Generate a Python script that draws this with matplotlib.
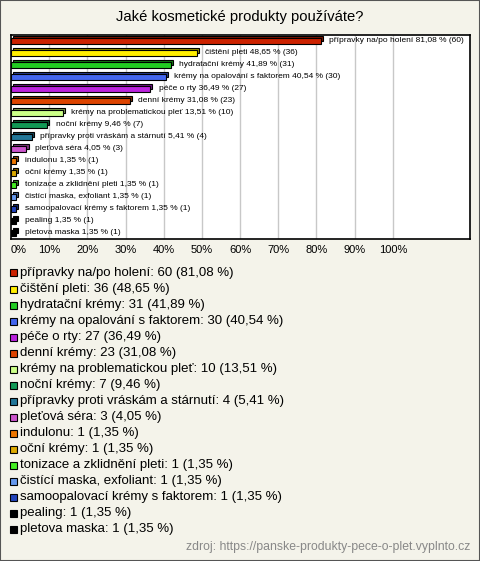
import matplotlib.pyplot as plt
from matplotlib.patches import Rectangle
import matplotlib.colors as mcolors

plt.rcParams['font.family'] = ['Liberation Sans', 'DejaVu Sans']

labels = ['přípravky na/po holení', 'čištění pleti', 'hydratační krémy',
          'krémy na opalování s faktorem', 'péče o rty', 'denní krémy',
          'krémy na problematickou pleť', 'noční krémy',
          'přípravky proti vráskám a stárnutí', 'pleťová séra', 'indulonu',
          'oční krémy', 'tonizace a zklidnění pleti', 'čistící maska, exfoliant',
          'samoopalovací krémy s faktorem', 'pealing', 'pletova maska']
counts = [60, 36, 31, 30, 27, 23, 10, 7, 4, 3, 1, 1, 1, 1, 1, 1, 1]
pcts = [81.08, 48.65, 41.89, 40.54, 36.49, 31.08, 13.51, 9.46, 5.41, 4.05,
        1.35, 1.35, 1.35, 1.35, 1.35, 1.35, 1.35]
colors = ['#CC2200', '#FFEE00', '#22CC22', '#4466EE', '#BB22DD', '#DD4400',
          '#CCFF88', '#119955', '#227799', '#CC55CC', '#EE7700', '#DDAA00',
          '#44EE22', '#6699EE', '#2244BB', '#000000', '#000000']
ticks = [0, 10, 20, 30, 40, 50, 60, 70, 80, 90, 100]

def fmt(v):
    return ('%.2f' % v).replace('.', ',')

W, H = 480, 561
bg = '#F4F3EA'
fig = plt.figure(figsize=(W / 100, H / 100), dpi=100, facecolor=bg)
fig.patches.append(Rectangle((0, 0), 1, 1, transform=fig.transFigure, fill=False,
                             edgecolor='#555555', lw=1.5))

fig.text(240 / W, 1 - 17 / H, 'Jaké kosmetické produkty používáte?', ha='center',
         va='center', fontsize=10.6)

ax = fig.add_axes([11 / W, 1 - 239 / H, 459 / W, 204 / H])
ax.set_facecolor('white')
ax.set_xlim(0, 120.2)
ax.set_ylim(16.5, -0.5)
for t in ticks[1:]:
    ax.axvline(t, color='#C8C8C8', lw=1, zorder=0)
for s in ax.spines.values():
    s.set_linewidth(1.2)
ax.set_yticks([])
ax.set_xticks(ticks)
ax.set_xticklabels([str(t) + '%' for t in ticks], fontsize=8)
ax.tick_params(axis='x', length=0, pad=4)
ax.get_xticklabels()[0].set_ha('left')

h = 0.42
dx = 0.55
dy = 0.18
for i, (v, c) in enumerate(zip(pcts, colors)):
    dark = [x * 0.6 for x in mcolors.to_rgb(c)]
    ax.barh(i - dy, v, left=dx, height=h, color=dark, edgecolor='black', lw=0.8, zorder=2)
    ax.barh(i, v, height=h, color=c, edgecolor='black', lw=0.8, zorder=3)
    ax.text(v + 2.2, i - 0.05, '%s %s %% (%d)' % (labels[i], fmt(v), counts[i]),
            fontsize=6, va='center', ha='left', zorder=4)

for i in range(len(labels)):
    yc = 1 - (273 + 16 * i) / H
    fig.patches.append(Rectangle((10 / W, yc - 3.5 / H), 7 / W, 7 / H,
                                 transform=fig.transFigure, facecolor=colors[i],
                                 edgecolor='black', lw=0.8))
    fig.text(20 / W, yc, '%s: %d (%s %%)' % (labels[i], counts[i], fmt(pcts[i])),
             fontsize=9.5, va='center', ha='left')

fig.text(470 / W, 1 - 547 / H, 'zdroj: https://panske-produkty-pece-o-plet.vyplnto.cz',
         fontsize=8.8, color='#888888', ha='right', va='center')

fig.savefig('out.png', dpi=100, facecolor=bg)
